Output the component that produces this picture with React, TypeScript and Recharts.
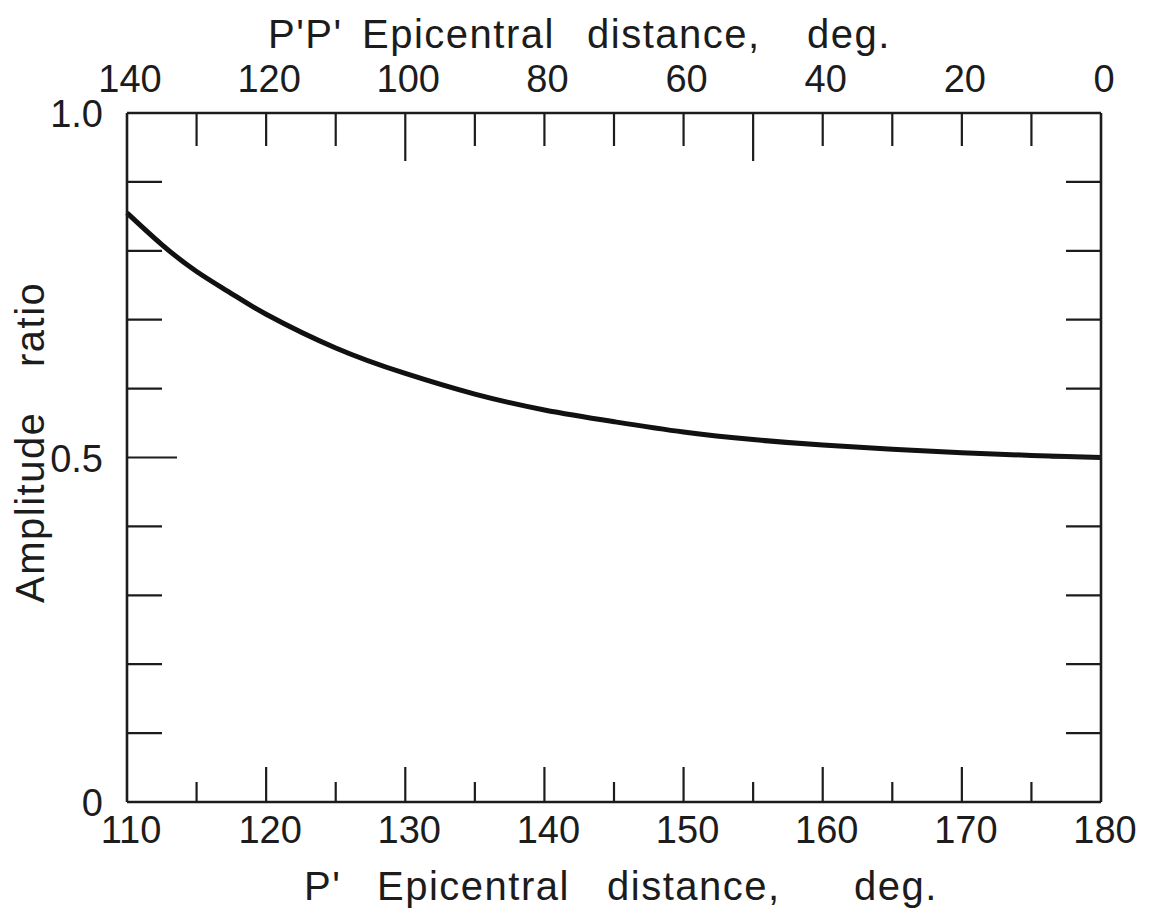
import React from 'react';
import { LineChart, Line, XAxis, YAxis } from 'recharts';

// P' epicentral distance (deg) and amplitude ratio
const pDistance = [110, 112.5, 115, 117.5, 120, 125, 130, 135, 140, 145, 150, 155, 160, 165, 170, 175, 180];
const amplitude = [0.855, 0.809, 0.770, 0.738, 0.708, 0.659, 0.622, 0.592, 0.569, 0.552, 0.537, 0.526, 0.518, 0.512, 0.507, 0.503, 0.5];

// bottom axis (P')
const bottomTicks = [110, 115, 120, 125, 130, 135, 140, 145, 150, 155, 160, 165, 170, 175, 180];
const bottomLabels = [110, 120, 130, 140, 150, 160, 170, 180];

// top axis: P'P' distance ticks, placed at the matching P' positions
const topTickPositions = [110, 115, 120, 125, 130, 135, 140, 145, 150, 155, 160, 165, 170, 175, 180];
const topTickValues = [140, 130, 120, 110, 100, 90, 80, 70, 60, 50, 40, 30, 20, 10, 0];
const topLabels = [140, 120, 100, 80, 60, 40, 20, 0];
const topLongTicks = [100, 50];

// amplitude axis
const yTicks = [0, 0.1, 0.2, 0.3, 0.4, 0.5, 0.6, 0.7, 0.8, 0.9, 1.0];
const yLabels = [0, 0.5, 1.0];
const yLongTicks = [0.5];

const data = pDistance.map((p, i) => ({ p, amp: amplitude[i] }));

const FONT = '"Liberation Sans", Arial, sans-serif';
const INK = '#1c1c1c';
const TICK_FS = 38;
const TITLE_FS = 40;

const BottomTick = (props: any) => {
  const { x, y, payload } = props;
  const v = payload.value;
  const major = v % 10 === 0;
  const edge = v === bottomTicks[0] || v === bottomTicks[bottomTicks.length - 1];
  return (
    <g>
      {!edge && (
        <line x1={x} x2={x} y1={y} y2={y - (major ? 35 : 20)} stroke={INK} strokeWidth={2.2} />
      )}
      {bottomLabels.includes(v) && (
        <text x={x + 4} y={y + 41} textAnchor="middle" fontSize={TICK_FS} fontFamily={FONT} fill={INK}>
          {v}
        </text>
      )}
    </g>
  );
};

const TopTick = (props: any) => {
  const { x, y, payload } = props;
  const idx = topTickPositions.indexOf(payload.value);
  const v = topTickValues[idx];
  const edge = idx === 0 || idx === topTickPositions.length - 1;
  const long = topLongTicks.includes(v);
  return (
    <g>
      {!edge && (
        <line x1={x} x2={x} y1={y} y2={y + (long ? 48 : 33)} stroke={INK} strokeWidth={2.2} />
      )}
      {topLabels.includes(v) && (
        <text x={x + 3} y={y - 21} textAnchor="middle" fontSize={TICK_FS} fontFamily={FONT} fill={INK}>
          {v}
        </text>
      )}
    </g>
  );
};

const LeftTick = (props: any) => {
  const { x, y, payload } = props;
  const v = payload.value;
  const edge = v === yTicks[0] || v === yTicks[yTicks.length - 1];
  const long = yLongTicks.includes(v);
  return (
    <g>
      {!edge && (
        <line x1={x} x2={x + (long ? 50 : 35)} y1={y} y2={y} stroke={INK} strokeWidth={2.2} />
      )}
      {yLabels.includes(v) && (
        <text x={x - 24} y={y + 14} textAnchor="end" fontSize={TICK_FS} fontFamily={FONT} fill={INK}>
          {v === 0 ? '0' : v.toFixed(1)}
        </text>
      )}
    </g>
  );
};

const RightTick = (props: any) => {
  const { x, y, payload } = props;
  const v = payload.value;
  const edge = v === yTicks[0] || v === yTicks[yTicks.length - 1];
  const long = yLongTicks.includes(v);
  return (
    <g>
      {!edge && (
        <line x1={x} x2={x - (long ? 50 : 35)} y1={y} y2={y} stroke={INK} strokeWidth={2.2} />
      )}
    </g>
  );
};

const axisLine = { stroke: INK, strokeWidth: 2.6 };

export default function App() {
  return (
    <div style={{ width: 1145, height: 907, background: '#fff' }}>
      <LineChart
        width={1145}
        height={907}
        data={data}
        margin={{ top: 104, right: 51, bottom: 112, left: 118 }}
      >
        <XAxis
          xAxisId="bottom"
          dataKey="p"
          type="number"
          domain={[110, 180]}
          ticks={bottomTicks}
          interval={0}
          height={1}
          tickSize={0}
          tickMargin={0}
          tickLine={false}
          axisLine={axisLine}
          tick={BottomTick}
        />
        <XAxis
          xAxisId="top"
          orientation="top"
          dataKey="p"
          type="number"
          domain={[110, 180]}
          ticks={topTickPositions}
          interval={0}
          height={1}
          tickSize={0}
          tickMargin={0}
          tickLine={false}
          axisLine={axisLine}
          tick={TopTick}
        />
        <YAxis
          yAxisId="left"
          type="number"
          domain={[0, 1]}
          ticks={yTicks}
          interval={0}
          width={1}
          tickSize={0}
          tickMargin={0}
          tickLine={false}
          axisLine={axisLine}
          tick={LeftTick}
        />
        <YAxis
          yAxisId="right"
          orientation="right"
          type="number"
          domain={[0, 1]}
          ticks={yTicks}
          interval={0}
          width={1}
          tickSize={0}
          tickMargin={0}
          tickLine={false}
          axisLine={axisLine}
          tick={RightTick}
        />
        <Line
          xAxisId="top"
          yAxisId="right"
          type="natural"
          dataKey="amp"
          stroke="none"
          strokeWidth={0}
          dot={false}
          activeDot={false}
          legendType="none"
          isAnimationActive={false}
        />
        <Line
          xAxisId="bottom"
          yAxisId="left"
          type="natural"
          dataKey="amp"
          stroke="#111"
          strokeWidth={5}
          dot={false}
          activeDot={false}
          isAnimationActive={false}
        />
        <text fontSize={TITLE_FS} fontFamily={FONT} fill={INK} letterSpacing={1.5} y={40}>
          <tspan x={260}>P'P'</tspan>
          <tspan x={354}>Epicentral</tspan>
          <tspan x={579}>distance,</tspan>
          <tspan x={799}>deg.</tspan>
        </text>
        <text fontSize={TITLE_FS} fontFamily={FONT} fill={INK} letterSpacing={1.5} y={892}>
          <tspan x={296}>P'</tspan>
          <tspan x={369}>Epicentral</tspan>
          <tspan x={599}>distance,</tspan>
          <tspan x={846}>deg.</tspan>
        </text>
        <text fontSize={TITLE_FS} fontFamily={FONT} fill={INK} letterSpacing={1.5} transform="rotate(-90)" y={36}>
          <tspan x={-595}>Amplitude</tspan>
          <tspan x={-359}>ratio</tspan>
        </text>
      </LineChart>
    </div>
  );
}
